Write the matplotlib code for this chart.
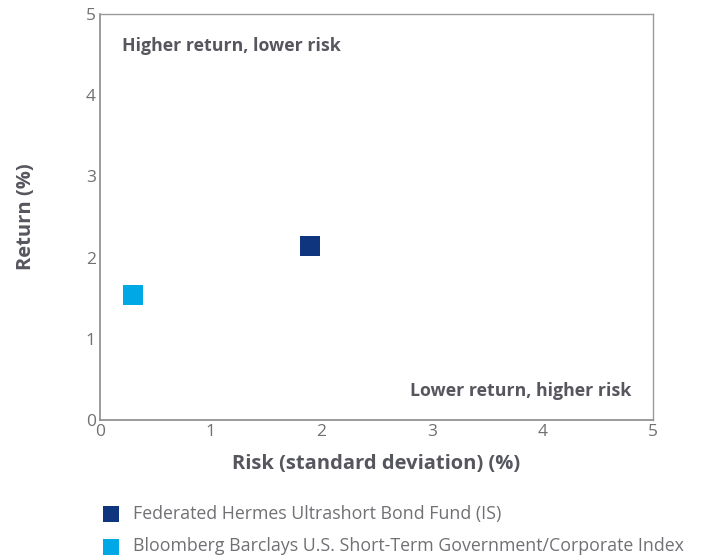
import matplotlib
matplotlib.use("Agg")
import matplotlib.pyplot as plt

series = ["Federated Hermes Ultrashort Bond Fund (IS)",
          "Bloomberg Barclays U.S. Short-Term Government/Corporate Index"]
risk = [1.9, 0.3]
ret = [2.14, 1.54]
colors = ["#10357f", "#00a9e6"]
ticks = [0, 1, 2, 3, 4, 5]

plt.rcParams['font.family'] = ['Open Sans', 'DejaVu Sans']

fig = plt.figure(figsize=(7.06, 5.58), dpi=100)
ax = fig.add_axes([100/706, 1-420/558, 553/706, 406/558])

handles = []
for x, y, c, lab in zip(risk, ret, colors, series):
    h = ax.scatter([x], [y], marker='s', s=190, color=c, label=lab, zorder=3, linewidths=0)
    handles.append(h)

ax.set_xlim(0, 5)
ax.set_ylim(0, 5)
ax.set_xticks(ticks)
ax.set_yticks(ticks)
ax.set_xticklabels([str(t) for t in ticks], fontsize=12.5, color='#707075')
ax.set_yticklabels([str(t) for t in ticks], fontsize=12.5, color='#707075')
ax.tick_params(length=0, pad=3)
for s in ['left', 'bottom']:
    ax.spines[s].set_color('#8a8a8a')
    ax.spines[s].set_linewidth(1.2)
for s in ['top', 'right']:
    ax.spines[s].set_color('#9a9a9a')
    ax.spines[s].set_linewidth(1.0)

ax.set_xlabel("Risk (standard deviation) (%)", fontsize=14.5, fontweight='bold', color='#56565e', labelpad=10)
ax.set_ylabel("Return (%)", fontsize=14.5, fontweight='bold', color='#56565e', labelpad=36)

ax.text(0.2, 4.6, "Higher return, lower risk", fontsize=12.8, fontweight='bold', color='#56565e', va='center', ha='left')
ax.text(4.8, 0.36, "Lower return, higher risk", fontsize=12.8, fontweight='bold', color='#56565e', va='center', ha='right')

leg = fig.legend(handles=handles, loc='upper left', bbox_to_anchor=(86/706, 1-498/558),
                 frameon=False, fontsize=12.8, handletextpad=0.25, labelspacing=0.8,
                 markerscale=0.85, borderaxespad=0)
for t in leg.get_texts():
    t.set_color('#707075')

fig.savefig("out.png", dpi=100)
